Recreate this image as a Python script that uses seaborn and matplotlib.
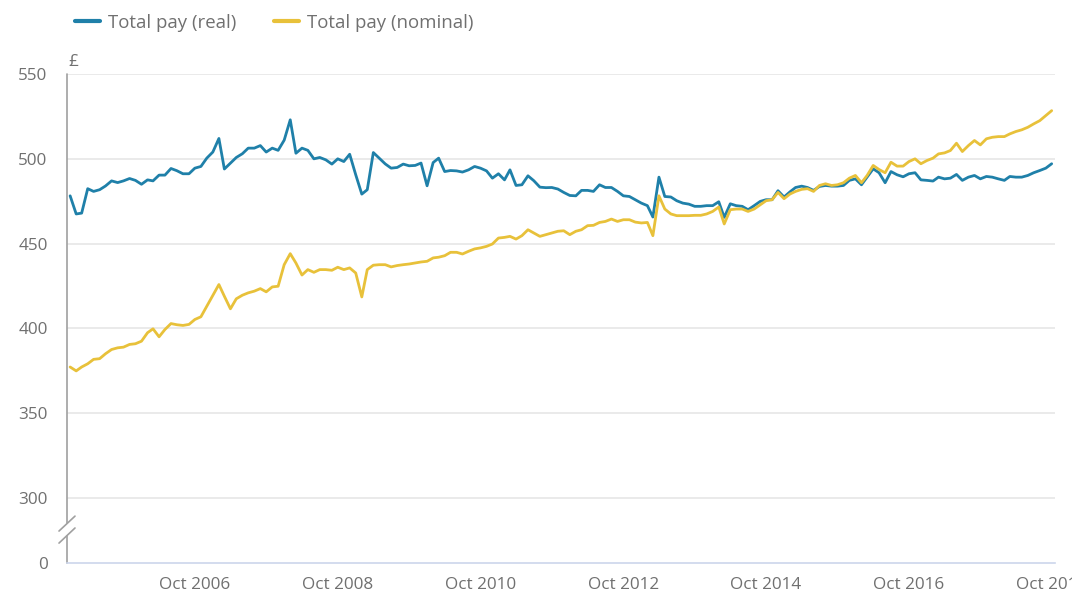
import pandas as pd
import seaborn as sns
import matplotlib.pyplot as plt

# monthly average weekly total pay, Jan 2005 - Oct 2018 (GBP)
months = pd.date_range('2005-01-01', '2018-10-01', freq='MS')

real_pay = [
    478.2, 467.5, 468.0, 482.4, 480.8, 481.8, 484.0, 487.0, 486.0, 487.0,
    488.4, 487.3, 485.0, 487.6, 487.0, 490.4, 490.4, 494.3, 493.0, 491.2,
    491.2, 494.5, 495.5, 500.4, 504.0, 512.0, 494.0, 497.5, 500.8, 503.0,
    506.3, 506.3, 507.8, 504.0, 506.3, 505.0, 511.0, 523.0, 503.3, 506.3,
    505.0, 500.0, 500.8, 499.4, 496.9, 500.0, 498.4, 502.7, 490.6, 479.2,
    481.8, 503.7, 500.4, 497.0, 494.5, 494.9, 496.9, 495.9, 496.1, 497.5,
    484.1, 497.8, 500.4, 492.5, 493.1, 492.9, 492.2, 493.5, 495.5, 494.5,
    492.9, 488.6, 491.2, 487.6, 493.5, 484.3, 484.7, 490.0, 487.1, 483.3,
    483.0, 483.1, 482.2, 480.2, 478.4, 478.2, 481.4, 481.4, 480.8, 484.7,
    483.1, 483.1, 480.8, 478.2, 477.8, 475.9, 473.9, 472.4, 465.7, 489.2,
    477.8, 477.5, 475.3, 473.9, 473.3, 472.0, 472.0, 472.4, 472.4, 474.7,
    465.5, 473.5, 472.4, 472.0, 470.0, 472.4, 474.9, 475.9, 475.9, 481.2,
    477.5, 480.6, 483.1, 483.9, 483.1, 481.4, 483.7, 484.3, 483.9, 483.9,
    484.3, 487.3, 488.2, 484.7, 489.2, 494.1, 491.8, 485.9, 492.5, 490.6,
    489.4, 491.2, 491.8, 487.6, 487.3, 486.9, 489.2, 488.2, 488.6, 490.8,
    487.3, 489.2, 490.2, 488.2, 489.6, 489.2, 488.2, 487.3, 489.6, 489.2,
    489.2, 490.2, 491.8, 493.1, 494.5, 497.1,
]

nominal_pay = [
    377.3, 375.0, 377.3, 379.2, 381.8, 382.2, 385.1, 387.6, 388.6, 389.0,
    390.6, 391.0, 392.5, 397.5, 399.8, 395.1, 399.4, 402.9, 402.2, 401.8,
    402.4, 405.3, 406.9, 413.1, 419.4, 425.9, 419.0, 411.6, 417.5, 419.6,
    421.0, 422.0, 423.5, 421.6, 424.5, 424.9, 437.6, 444.1, 438.6, 431.5,
    434.7, 433.1, 434.7, 434.7, 434.3, 436.1, 434.7, 435.7, 432.7, 418.6,
    434.7, 437.3, 437.6, 437.6, 436.3, 437.1, 437.6, 438.0, 438.6, 439.2,
    439.6, 441.6, 442.0, 442.9, 444.9, 444.9, 443.9, 445.5, 446.9, 447.5,
    448.4, 449.8, 453.3, 453.7, 454.3, 452.7, 454.7, 458.2, 456.3, 454.3,
    455.3, 456.3, 457.3, 457.6, 455.3, 457.3, 458.2, 460.6, 460.8, 462.5,
    463.1, 464.5, 463.1, 464.1, 464.1, 462.7, 462.2, 462.5, 454.7, 478.2,
    470.4, 467.5, 466.5, 466.5, 466.5, 466.7, 466.7, 467.5, 469.0, 471.6,
    461.6, 470.0, 470.4, 470.4, 469.0, 470.4, 472.9, 475.3, 475.9, 480.2,
    476.5, 479.3, 480.8, 482.0, 482.4, 480.8, 484.3, 485.3, 484.3, 484.7,
    485.9, 488.6, 490.2, 485.9, 490.2, 496.1, 493.7, 491.8, 498.0, 495.7,
    495.7, 498.4, 500.0, 497.1, 499.0, 500.4, 502.9, 503.5, 504.9, 509.2,
    504.3, 507.8, 510.8, 508.2, 511.8, 512.7, 513.1, 513.1, 514.7, 516.1,
    517.1, 518.6, 520.6, 522.5, 525.5, 528.4,
]

series_names = ['Total pay (real)', 'Total pay (nominal)']
y_ticks = [300, 350, 400, 450, 500, 550]
x_tick_dates = pd.to_datetime(['2006-10-01', '2008-10-01', '2010-10-01',
                               '2012-10-01', '2014-10-01', '2016-10-01',
                               '2018-10-01'])

df = pd.concat([
    pd.DataFrame({'date': months, 'pay': real_pay, 'series': series_names[0]}),
    pd.DataFrame({'date': months, 'pay': nominal_pay, 'series': series_names[1]}),
])

sns.set_style('white')
plt.rcParams['font.family'] = ['Open Sans', 'DejaVu Sans']

grey = '#707070'
axis_col = '#ccd6eb'
palette = {series_names[0]: '#1f80a9', series_names[1]: '#e8c13a'}

fig = plt.figure(figsize=(10.72, 5.96), dpi=100)
ax = fig.add_axes([67 / 1072, 1 - 563 / 596, (1055 - 67) / 1072, (563 - 74) / 596])

sns.lineplot(data=df, x='date', y='pay', hue='series', palette=palette,
             linewidth=2.0, ax=ax)

# broken y axis: the zero sits just below 300
y_zero = 300 - 65 / 1.7
ax.set_ylim(y_zero, 550)
ax.set_xlim(pd.Timestamp('2004-12-16'), pd.Timestamp('2018-10-18'))
ax.set_yticks([y_zero] + y_ticks)
ax.set_yticklabels(['0'] + [str(v) for v in y_ticks])
ax.set_xticks(x_tick_dates)
ax.set_xticklabels([d.strftime('Oct %Y') for d in x_tick_dates])

for v in y_ticks:
    ax.axhline(v, color='#e6e6e6', lw=1.2, zorder=0)

ax.tick_params(axis='y', length=0, pad=14, labelsize=12.3, labelcolor=grey)
ax.tick_params(axis='x', length=6, width=1, color=axis_col, pad=4,
               labelsize=12.3, labelcolor=grey)
ax.set_xlabel('')
ax.set_ylabel('')

for side in ['top', 'right', 'left']:
    ax.spines[side].set_visible(False)
ax.spines['bottom'].set_color(axis_col)
ax.spines['bottom'].set_linewidth(1.2)

# left axis line with break marks
trans = ax.get_yaxis_transform()
px = 1 / 988
ax.plot([0, 0], [285.3, 550], color='#a0a0a0', lw=1.2, transform=trans, clip_on=False)
ax.plot([0, 0], [y_zero, 277.6], color='#a0a0a0', lw=1.2, transform=trans, clip_on=False)
ax.plot([-8 * px, 8 * px], [280.6, 289.4], color='#a0a0a0', lw=1.2, transform=trans, clip_on=False)
ax.plot([-8 * px, 8 * px], [273.5, 282.4], color='#a0a0a0', lw=1.2, transform=trans, clip_on=False)

fig.text(68 / 1072, 1 - 62 / 596, '£', ha='left', va='center', fontsize=12.3, color=grey)

handles, labels = ax.get_legend_handles_labels()
ax.get_legend().remove()
leg = fig.legend(handles, labels, loc='center left', bbox_to_anchor=(58 / 1072, 1 - 23 / 596),
                 ncol=2, frameon=False, fontsize=13.4, handlelength=1.35,
                 handletextpad=0.45, columnspacing=2.0)
for t in leg.get_texts():
    t.set_color(grey)
for h in leg.get_lines():
    h.set_linewidth(3)

fig.savefig('out.png', dpi=100)
